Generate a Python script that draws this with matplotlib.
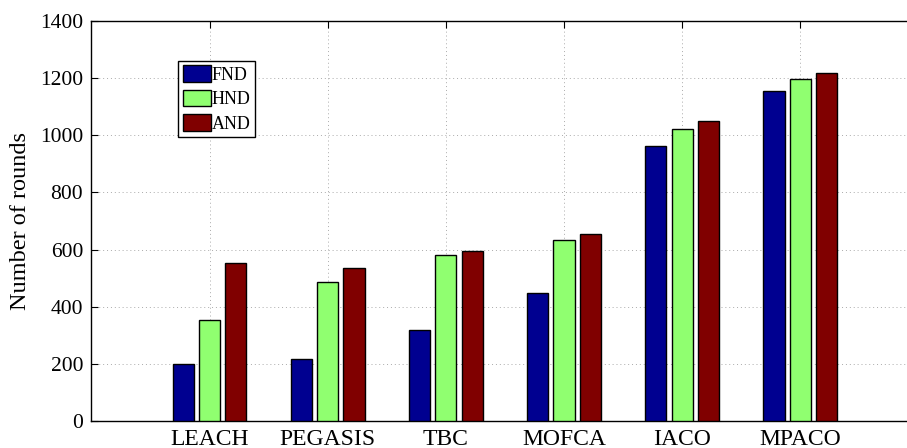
import numpy as np
import matplotlib.pyplot as plt

# rounds until first / half / all nodes die
protocols = ["LEACH", "PEGASIS", "TBC", "MOFCA", "IACO", "MPACO"]
fnd = [200, 217, 318, 447, 964, 1155]
hnd = [354, 486, 581, 635, 1023, 1197]
and_ = [554, 535, 596, 656, 1051, 1218]

plt.rcParams['font.family'] = ['Liberation Serif', 'DejaVu Serif']

fig = plt.figure(figsize=(9.07, 4.48), dpi=100)
ax = fig.add_axes([0.1007, 0.0603, 0.912, 0.8929])

x = np.arange(1, len(protocols) + 1)
w = 0.18
step = 0.223
ax.bar(x - step, fnd, w, color='#000090', edgecolor='black', linewidth=1.0, label='FND', zorder=3)
ax.bar(x, hnd, w, color='#90FF70', edgecolor='black', linewidth=1.0, label='HND', zorder=3)
ax.bar(x + step, and_, w, color='#800000', edgecolor='black', linewidth=1.0, label='AND', zorder=3)

ax.set_xlim(0, 7)
ax.set_ylim(0, 1400)
ax.set_xticks(x)
ax.set_xticklabels(protocols)
ax.set_yticks(np.arange(0, 1401, 200))
ax.tick_params(direction='in', top=True, right=False, length=5, width=0.8)
ax.tick_params(axis='y', labelsize=15.5, pad=6)
ax.tick_params(axis='x', labelsize=17, pad=6)
ax.grid(True, linestyle=(0, (1, 3)), color='#aaaaaa', linewidth=0.7, zorder=0)
ax.set_axisbelow(True)
for s in ax.spines.values():
    s.set_linewidth(1.0)

ax.set_ylabel("Number of rounds", fontsize=17.5, labelpad=6)

leg = ax.legend(loc='upper left', bbox_to_anchor=(0.105, 0.9), borderaxespad=0,
                fontsize=13, handlelength=1.55, handleheight=1.03, handletextpad=0.05,
                labelspacing=0.33, borderpad=0.25, fancybox=False, framealpha=1,
                edgecolor='black')
leg.get_frame().set_linewidth(1.0)

fig.savefig("out.png", dpi=100)
